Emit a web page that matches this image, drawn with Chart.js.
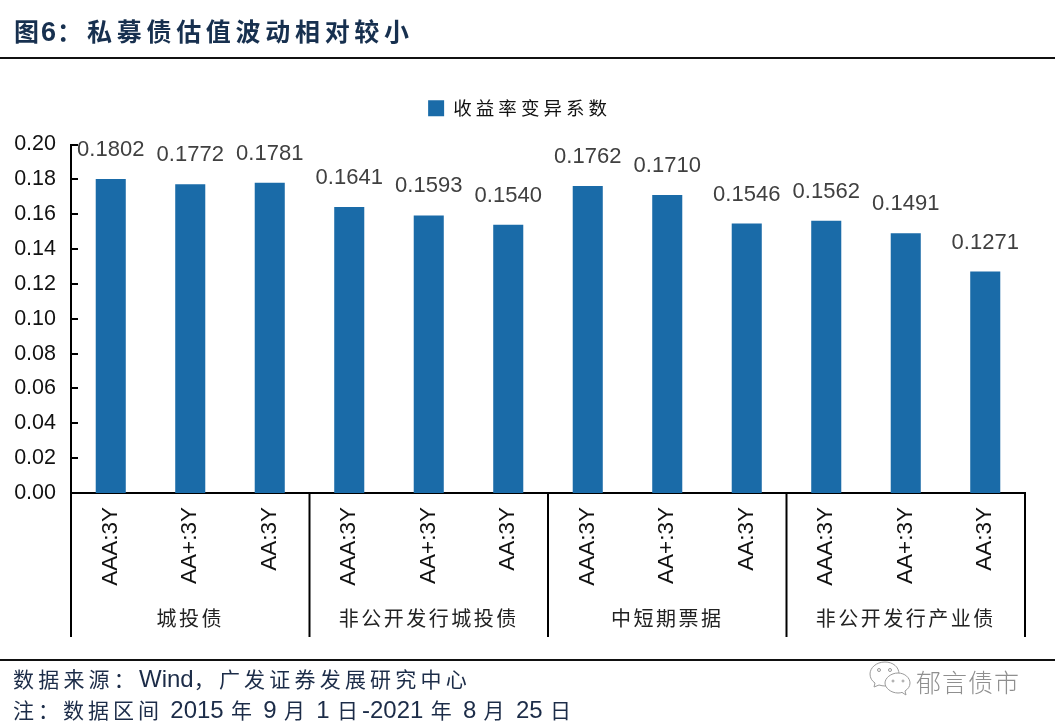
<!DOCTYPE html>
<html lang="zh"><head><meta charset="utf-8">
<script src="https://cdn.jsdelivr.net/npm/chart.js@4"></script>
<style>
html,body{margin:0;padding:0;background:#fff;width:1055px;height:727px;overflow:hidden}
#wrap{position:relative;width:1055px;height:727px}
canvas{position:absolute;left:0;top:0}
.t{position:absolute;white-space:nowrap;line-height:1;font-family:"Noto Sans CJK SC","Liberation Sans",sans-serif}
.rule{position:absolute;left:0;width:1055px;background:#111}
.l{font-family:"Liberation Sans",sans-serif;font-size:24px;letter-spacing:0}
</style></head><body>
<div id="wrap">
<canvas id="c" width="1055" height="727"></canvas>
<div class="t" id="title" style="left:14px;top:18px;font-size:25px;font-weight:700;color:#17304f;letter-spacing:4.700px"><span style="letter-spacing:2px">图</span><span class="l" style="letter-spacing:1px;font-size:27px;font-weight:700">6</span><span style="letter-spacing:0">&#xFF1A;</span><span style="margin-left:5px">私募债估值波动相对较小</span></div>
<div class="rule" style="top:57px;height:1.5px"></div>
<div class="rule" style="top:659px;height:1.5px"></div>
<div class="t" id="f1" style="left:13px;top:667px;font-size:21px;color:#1c2c48;letter-spacing:4.200px">数据来源&#xFF1A;<span class="l">Wind</span>&#xFF0C;广发证券发展研究中心</div>
<div class="t" id="f2" style="left:13px;top:698px;font-size:21px;color:#1c2c48;letter-spacing:4px;word-spacing:-1.400px">注&#xFF1A;数据区间 <span class="l">2015</span> 年 <span class="l">9</span> 月 <span class="l">1</span> 日<span class="l">-2021</span> 年 <span class="l">8</span> 月 <span class="l">25</span> 日</div>
<svg style="position:absolute;left:868px;top:660px" width="44" height="38" viewBox="0 0 44 38" fill="#fff" stroke="#9a9a9a" stroke-width="1">
<path d="M17 2C8 2 2 8 2 14c0 4 2 7 5 9l-1 4 5-2c2 .6 4 1 6 1 8 0 14-5 14-12S25 2 17 2z"/>
<path d="M30 13c-7 0-13 5-13 10s6 10 13 10c1.500 0 3-.2 4-.6l4 2.600-1-4c3-2 5-4.500 5-8 0-5-5-10-12-10z"/>
<circle cx="11" cy="10" r="1.500"/><circle cx="22" cy="10" r="1.500"/><circle cx="25" cy="21" r="1"/><circle cx="35" cy="21" r="1"/>
</svg>
<div class="t" id="wm" style="left:916px;top:669px;font-size:25px;font-weight:300;color:#8f8f8f;letter-spacing:1px">郁言债市</div>
</div>
<script>
const categories=["AAA:3Y","AA+:3Y","AA:3Y","AAA:3Y","AA+:3Y","AA:3Y","AAA:3Y","AA+:3Y","AA:3Y","AAA:3Y","AA+:3Y","AA:3Y"];
const groupNames=["城投债","非公开发行城投债","中短期票据","非公开发行产业债"];
const groupSizes=[3,3,3,3];
const seriesName="收益率变异系数";
const seriesValues=[0.1802,0.1772,0.1781,0.1641,0.1593,0.1540,0.1762,0.1710,0.1546,0.1562,0.1491,0.1271];
const yTicks={min:0,max:0.20,step:0.02};
const BLUE="#1a6ba8",INK="#000";
const CJK='"Noto Sans CJK SC"', LAT='"Liberation Sans"';

const extras={id:"extras",
 beforeLayout(chart){
  const lg=chart.legend;
  if(lg&&!lg.__w){lg.__w=true;
   const oFit=lg.fit.bind(lg),oDraw=lg.draw.bind(lg);
   lg.fit=function(){const c=chart.ctx;c.save();c.letterSpacing="4px";oFit();c.restore();lg.height+=16;};
   lg.draw=function(){const c=chart.ctx;c.save();c.translate(7,-1);c.letterSpacing="4px";oDraw();c.restore();};
  }
 },
 afterDatasetsDraw(chart){
  const {ctx,scales:{x,y}}=chart;
  ctx.save();
  ctx.strokeStyle=INK;ctx.lineWidth=2;
  y.ticks.forEach((t,i)=>{const p=Math.round(y.getPixelForTick(i));
   ctx.beginPath();ctx.moveTo(x.left,p);ctx.lineTo(x.left+7,p);ctx.stroke();});
  const step=x.getPixelForValue(1)-x.getPixelForValue(0);
  let start=0;
  const bottom=x.bottom;
  const sep=(px)=>{ctx.beginPath();ctx.moveTo(px,y.bottom);ctx.lineTo(px,bottom);ctx.stroke();};
  sep(x.left);
  ctx.fillStyle="#222";ctx.font="20px "+CJK;ctx.textAlign="center";ctx.textBaseline="middle";ctx.letterSpacing="2.500px";
  groupSizes.forEach((n,g)=>{
   const end=start+n;
   const a=x.getPixelForValue(start)-step/2,b=x.getPixelForValue(end-1)+step/2;
   sep(b);
   ctx.fillText(groupNames[g],(a+b)/2,618);
   start=end;
  });
  ctx.letterSpacing="0px";
  ctx.fillStyle="#404040";ctx.font="22px "+LAT;
  chart.getDatasetMeta(0).data.forEach((el,i)=>{
   ctx.fillText(seriesValues[i].toFixed(4),el.x,el.y-29);
  });
  ctx.restore();
 }};

new Chart(document.getElementById("c"),{
 type:"bar",
 data:{labels:categories,datasets:[{label:seriesName,data:seriesValues,backgroundColor:BLUE,borderWidth:0,barPercentage:0.378,categoryPercentage:1}]},
 plugins:[extras],
 options:{
  responsive:false,animation:false,
  layout:{padding:{left:0,right:30,top:75,bottom:90}},
  plugins:{
   tooltip:{enabled:false},
   legend:{display:true,position:"top",align:"center",
    labels:{boxWidth:16,boxHeight:16,padding:25,color:"#111",font:{family:CJK,size:18.5}}}
  },
  scales:{
   x:{type:"category",offset:true,
    grid:{display:false},
    border:{display:true,color:INK,width:2},
    ticks:{minRotation:90,maxRotation:90,autoSkip:false,padding:6,color:"#111",font:{family:LAT,size:22.5}},
    afterFit(s){s.height=144;}
   },
   y:{min:yTicks.min,max:yTicks.max,
    grid:{display:false,drawTicks:false},
    border:{display:true,color:INK,width:2},
    ticks:{stepSize:yTicks.step,padding:15,color:"#111",font:{family:LAT,size:21.5},callback:v=>v.toFixed(2)},
    afterFit(s){s.width=71;}
   }
  }
 }
});
</script>
</body></html>
